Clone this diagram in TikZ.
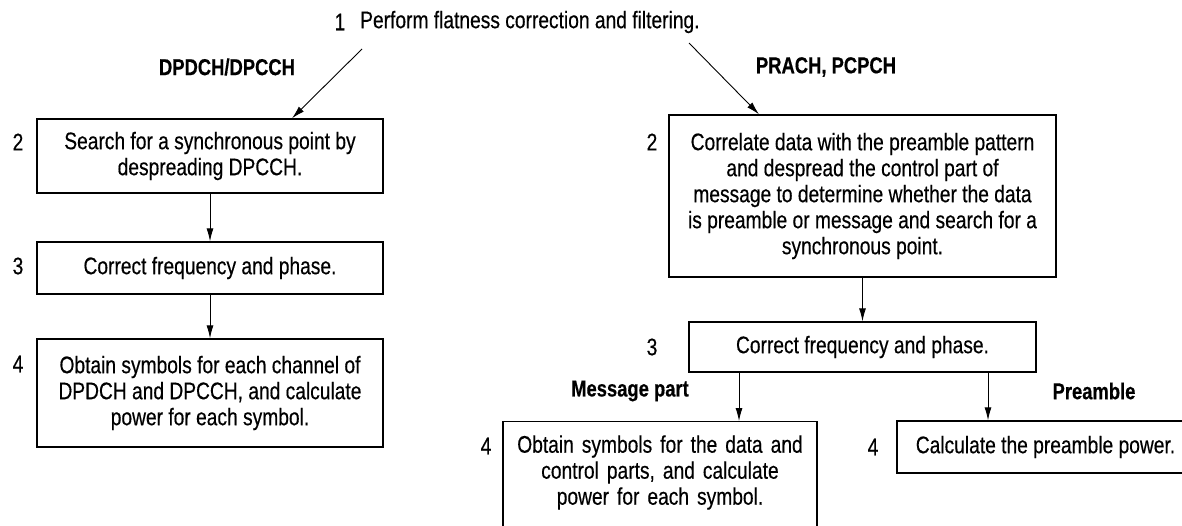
\documentclass[tikz,border=0pt]{standalone}
\usepackage{fontspec}
\setmainfont{Liberation Sans}[FakeStretch=0.80, FakeBold=0.4]
\usetikzlibrary{arrows.meta}

\begin{document}
\begin{tikzpicture}[x=1pt, y=-1pt,
    every node/.style={font=\fontsize{24}{26}\selectfont},
    stepbox/.style={draw, line width=1.4pt, align=center, inner sep=0pt},
    chan/.style={font=\fontsize{23}{26}\selectfont\bfseries},
    flow/.style={line width=0.9pt, -{Latex[length=13pt,width=7pt]}}]
    \useasboundingbox (0,0) rectangle (1182,525);
    \clip (0,0) rectangle (1182,525);% lower right boxes run off the page
    % step 1 on top
    \node (n1) at (340,22) {1};
    \node (flat) [anchor=west, inner sep=0pt] at (360,22) {Perform flatness correction and filtering.};
    \node (dp) [chan] at (227,67) {DPDCH/DPCCH};
    \node (pr) [chan] at (826,67) {PRACH, PCPCH};
    % left branch
    \node (s2L) [stepbox, minimum width=346pt, minimum height=74pt] at (210,156)
        {Search for a synchronous point by\\despreading DPCCH.};
    \node (s3L) [stepbox, minimum width=346pt, minimum height=52pt] at (210,268)
        {Correct frequency and phase.};
    \node (s4L) [stepbox, minimum width=346pt, minimum height=108pt] at (210,393)
        {Obtain symbols for each channel of\\DPDCH and DPCCH, and calculate\\power for each symbol.};
    \node (n2L) at (18,142) {2};
    \node (n3L) at (18,266) {3};
    \node (n4L) at (18,364) {4};
    % right branch
    \node (s2R) [stepbox, minimum width=387pt, minimum height=162pt] at (862.5,196)
        {Correlate data with the preamble pattern\\and despread the control part of\\message to determine whether the data\\is preamble or message and search for a\\synchronous point.};
    \node (s3R) [stepbox, minimum width=347pt, minimum height=50pt] at (862.5,347)
        {Correct frequency and phase.};
    \node (s4Rm) [stepbox, anchor=north, text width=300pt, inner xsep=7pt, inner ysep=14pt,
        text height=17pt, text depth=67pt] at (660,421)
        {Obtain symbols for the data and\\control parts, and calculate\\power for each symbol.};
    \node (s4Rp) [stepbox, minimum width=297pt, minimum height=52pt] at (1045.5,447)
        {Calculate the preamble power.};
    \node (n2R) at (652,142) {2};
    \node (n3R) at (652,347) {3};
    \node (n4Rm) at (486,446) {4};
    \node (n4Rp) at (873,447) {4};
    \node (msg) [chan] at (630,391) {Message part};
    \node (pre) [chan] at (1094,391) {Preamble};
    % connectors
    \coordinate (fromL) at (362,49);
    \coordinate (fromR) at (689,43);
    \coordinate (aimL) at (292,0);
    \coordinate (aimR) at (759,0);
    \coordinate (msgX) at (739,0);
    \coordinate (preX) at (988,0);
    \draw[flow] (fromL) -- (s2L.north -| aimL);
    \draw[flow] (fromR) -- (s2R.north -| aimR);
    \draw[flow] (s2L) -- (s3L);
    \draw[flow] (s3L) -- (s4L);
    \draw[flow] (s2R) -- (s3R);
    \draw[flow] (s3R.south -| msgX) -- (s4Rm.north -| msgX);
    \draw[flow] (s3R.south -| preX) -- (s4Rp.north -| preX);
\end{tikzpicture}
\end{document}
